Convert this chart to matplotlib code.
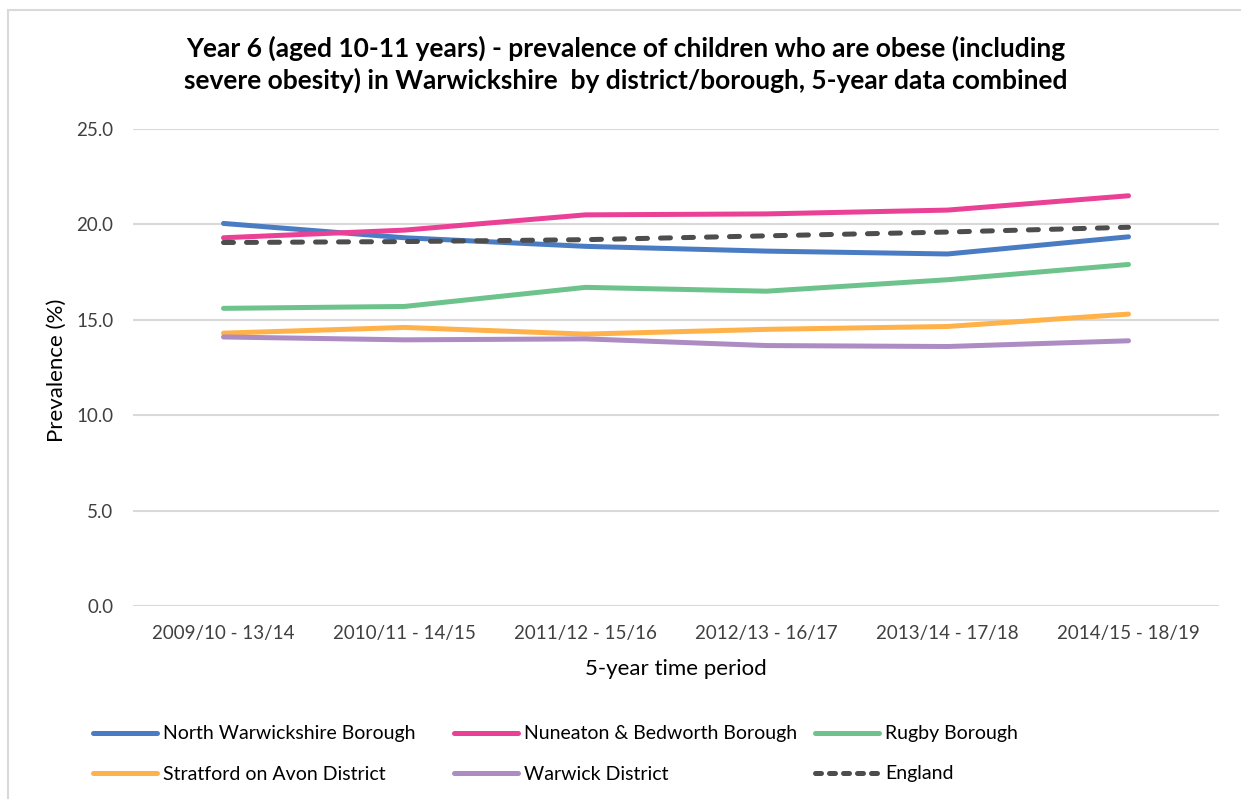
import matplotlib
matplotlib.use("Agg")
import matplotlib.pyplot as plt
from matplotlib.lines import Line2D
from matplotlib.patches import Rectangle

plt.rcParams['font.family'] = ['Lato', 'DejaVu Sans']

periods = ["2009/10 - 13/14", "2010/11 - 14/15", "2011/12 - 15/16",
           "2012/13 - 16/17", "2013/14 - 17/18", "2014/15 - 18/19"]
north_warwickshire = [20.05, 19.3, 18.85, 18.6, 18.45, 19.35]
nuneaton_bedworth = [19.3, 19.7, 20.5, 20.55, 20.75, 21.5]
rugby = [15.6, 15.7, 16.7, 16.5, 17.1, 17.9]
stratford = [14.3, 14.6, 14.25, 14.5, 14.65, 15.3]
warwick = [14.1, 13.95, 14.0, 13.65, 13.6, 13.9]
england = [19.05, 19.1, 19.2, 19.4, 19.6, 19.85]

series_names = ["North Warwickshire Borough", "Nuneaton & Bedworth Borough", "Rugby Borough",
                "Stratford on Avon District", "Warwick District", "England"]
series_values = [north_warwickshire, nuneaton_bedworth, rugby, stratford, warwick, england]
series_colors = ["#4A7CC4", "#EA4096", "#6EC38C", "#FFB24A", "#AD8CC4", "#4D4D4D"]
y_ticks = [0, 5, 10, 15, 20, 25]

W, H = 1241, 799
fig = plt.figure(figsize=(W / 100, H / 100), dpi=100)

def fx(px):
    return px / W

def fy(py):
    return 1 - py / H

# chart border
fig.patches.append(Rectangle((fx(8), fy(900)), fx(1300), (900 - 10) / H,
                             transform=fig.transFigure, fill=False,
                             edgecolor="#D9D9D9", linewidth=1.5, zorder=0))

ax = fig.add_axes([fx(133), fy(606), fx(1219 - 133), (606 - 129) / H])
x = list(range(len(periods)))
lw = 3.6
handles = []
for name, vals, col in zip(series_names, series_values, series_colors):
    if name == "England":
        h, = ax.plot(x, vals, color=col, linewidth=lw, linestyle=(0, (2.0, 2.6)),
                     dash_capstyle='round', solid_capstyle='round', zorder=4, label=name)
    else:
        h, = ax.plot(x, vals, color=col, linewidth=lw, solid_capstyle='round',
                     solid_joinstyle='round', zorder=3, label=name)
    handles.append(h)

ax.set_xlim(-0.5, len(periods) - 0.5)
ax.set_ylim(0, 25)
ax.set_yticks(y_ticks)
ax.set_yticklabels([f"{v:.1f}" for v in y_ticks], fontsize=13.5, color="#404040")
ax.set_xticks(x)
ax.set_xticklabels(periods, fontsize=13.5, color="#404040")
ax.tick_params(axis='both', length=0)
ax.tick_params(axis='y', pad=14)
ax.tick_params(axis='x', pad=14)
ax.grid(axis='y', color="#D9D9D9", linewidth=1.5, zorder=0)
ax.set_axisbelow(True)
for s in ax.spines.values():
    s.set_visible(False)

fig.text(fx(57), fy(370), "Prevalence (%)", rotation=90, ha='center', va='center',
         fontsize=16, color="#000000")
fig.text(fx(676), fy(669), "5-year time period", ha='center', va='center',
         fontsize=16, color="#000000")
fig.text(fx(626), fy(64), "Year 6 (aged 10-11 years) - prevalence of children who are obese (including\n"
         "severe obesity) in Warwickshire  by district/borough, 5-year data combined",
         ha='center', va='center', fontsize=19, fontweight='bold', color="#000000",
         linespacing=1.3)

# legend entries placed in Excel-style grid
leg_pos = [(93, 734), (454, 734), (815, 734), (93, 774), (454, 774), (815, 774)]
for h, (px, py) in zip(handles, leg_pos):
    lh = Line2D([], [], color=h.get_color(), linewidth=lw, linestyle=h.get_linestyle(),
                dash_capstyle='round', solid_capstyle='round')
    if h.get_label() == "England":
        lh = Line2D([], [], color=h.get_color(), linewidth=lw, linestyle=(0, (1.2, 1.6)),
                    dash_capstyle='round')
    fig.legend(handles=[lh], labels=[h.get_label()], loc='center left',
               bbox_to_anchor=(fx(px), fy(py)), frameon=False, borderpad=0,
               borderaxespad=0, handlelength=3.3, handletextpad=0.3, fontsize=14,
               labelcolor="#000000")

fig.savefig("out.png", dpi=100, facecolor="white")
